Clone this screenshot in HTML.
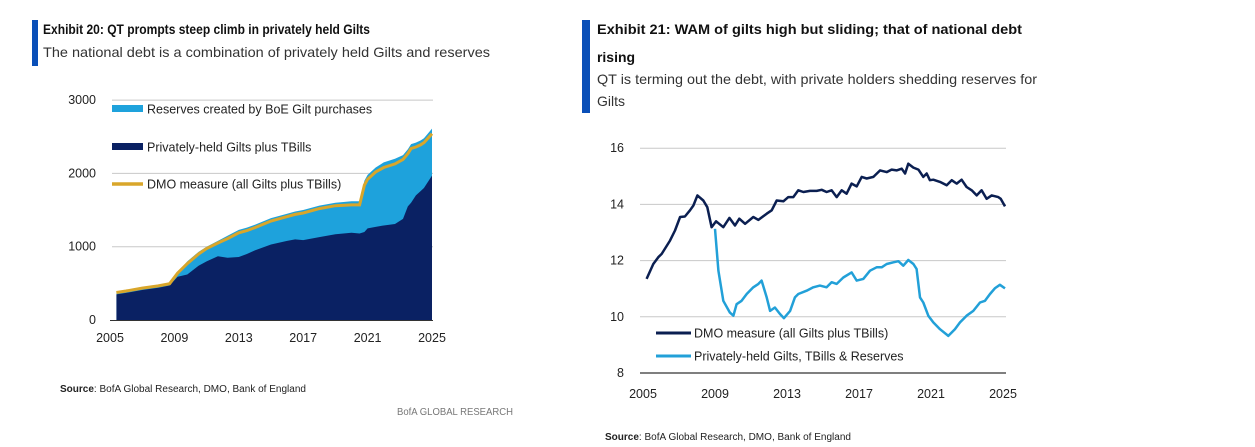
<!DOCTYPE html>
<html><head><meta charset="utf-8"><style>
html,body{margin:0;padding:0;background:#fff;}
svg{display:block;font-family:"Liberation Sans",sans-serif;}
.t{font-weight:bold;font-size:14px;fill:#111;}
.s{font-size:14px;fill:#333;}
.ax{font-size:12.5px;fill:#222;}
.lg{font-size:12.5px;fill:#222;}
.src{font-size:10px;fill:#222;}
</style></head><body>
<svg id="root" width="1255" height="447" viewBox="0 0 1255 447">
<g>
<rect x="32" y="20" width="6" height="46" fill="#0a4fb8"/>
<text class="t" x="43" y="34" textLength="327" lengthAdjust="spacingAndGlyphs">Exhibit 20: QT prompts steep climb in privately held Gilts</text>
<text class="s" x="43" y="57" textLength="447" lengthAdjust="spacingAndGlyphs">The national debt is a combination of privately held Gilts and reserves</text>
</g>
<g>
<rect x="582" y="20" width="8" height="93" fill="#0a4fb8"/>
<text class="t" x="597" y="34" textLength="425" lengthAdjust="spacingAndGlyphs">Exhibit 21: WAM of gilts high but sliding; that of national debt</text>
<text class="t" x="597" y="62" textLength="38" lengthAdjust="spacingAndGlyphs">rising</text>
<text class="s" x="597" y="84" textLength="440" lengthAdjust="spacingAndGlyphs">QT is terming out the debt, with private holders shedding reserves for</text>
<text class="s" x="597" y="106" textLength="28" lengthAdjust="spacingAndGlyphs">Gilts</text>
</g>
<g id="c1"></g>
<g id="c2"></g>
<text class="src" x="60" y="392" textLength="246" lengthAdjust="spacingAndGlyphs"><tspan font-weight="bold">Source</tspan>: BofA Global Research, DMO, Bank of England</text>
<text class="src" x="397" y="415" fill="#777" textLength="116" lengthAdjust="spacingAndGlyphs" style="fill:#777">BofA GLOBAL RESEARCH</text>
<text class="src" x="605" y="440" textLength="246" lengthAdjust="spacingAndGlyphs"><tspan font-weight="bold">Source</tspan>: BofA Global Research, DMO, Bank of England</text>
</svg>
<script>
// ---- Exhibit 20 data (GBP bn) ----
const yearsA = [2005.4,2006,2007,2008,2008.7,2009.2,2009.8,2010.5,2011,2011.7,2012.3,2013,2013.5,2014,2015,2016,2016.5,2017,2018,2019,2020,2020.5,2020.8,2021,2021.5,2022,2022.7,2023.2,2023.5,2023.7,2024,2024.3,2024.5,2025];
const privateA = [350,370,410,440,470,590,620,740,800,870,850,860,900,950,1030,1080,1100,1090,1130,1170,1190,1180,1200,1250,1270,1290,1310,1380,1550,1600,1700,1760,1800,1970];
const totalA = [380,400,440,470,500,650,800,930,1000,1080,1150,1230,1260,1300,1390,1450,1480,1500,1560,1600,1620,1620,1900,1980,2080,2150,2200,2250,2330,2400,2420,2450,2480,2610];
const dmoA = [375,395,435,465,495,640,770,900,975,1050,1110,1190,1220,1260,1350,1410,1440,1460,1520,1560,1570,1570,1840,1920,2020,2080,2130,2190,2270,2340,2360,2390,2420,2540];
const yTicksA = [0,1000,2000,3000];
const xTicksA = [2005,2009,2013,2017,2021,2025];
// ---- Exhibit 21 data (years) ----
const yearsDmo = [2005.2,2005.57,2005.85,2006.04,2006.5,2006.78,2007.06,2007.33,2007.61,2007.8,2008.02,2008.35,2008.57,2008.81,2009.06,2009.46,2009.8,2010.11,2010.35,2010.67,2011.13,2011.41,2011.87,2012.15,2012.43,2012.8,2013.07,2013.35,2013.63,2013.91,2014.28,2014.65,2014.93,2015.2,2015.48,2015.76,2016.04,2016.31,2016.59,2016.87,2017.15,2017.43,2017.8,2018.17,2018.54,2018.81,2019.09,2019.37,2019.56,2019.74,2020.02,2020.3,2020.57,2020.76,2020.94,2021.13,2021.5,2021.87,2022.15,2022.43,2022.7,2022.98,2023.26,2023.54,2023.81,2024.09,2024.37,2024.74,2024.87,2025.11];
const dmoWam = [11.35,11.88,12.12,12.24,12.71,13.07,13.55,13.57,13.79,13.96,14.32,14.14,13.9,13.19,13.4,13.19,13.52,13.25,13.49,13.31,13.55,13.45,13.67,13.79,14.14,14.11,14.26,14.26,14.5,14.44,14.48,14.48,14.52,14.44,14.5,14.26,14.5,14.38,14.74,14.64,14.98,14.92,14.98,15.21,15.15,15.24,15.21,15.27,15.1,15.45,15.31,15.24,14.98,15.1,14.86,14.88,14.8,14.68,14.86,14.74,14.88,14.62,14.5,14.32,14.5,14.2,14.32,14.26,14.2,13.93];
const yearsPriv = [2009.0,2009.19,2009.46,2009.83,2010.02,2010.2,2010.48,2010.76,2011.13,2011.41,2011.59,2011.87,2012.06,2012.33,2012.61,2012.83,2013.17,2013.44,2013.63,2014.09,2014.46,2014.83,2015.2,2015.48,2015.76,2016.13,2016.59,2016.87,2017.24,2017.61,2017.98,2018.26,2018.54,2018.91,2019.19,2019.46,2019.74,2020.02,2020.2,2020.39,2020.57,2020.85,2021.13,2021.5,2021.96,2022.33,2022.61,2022.98,2023.35,2023.72,2024.0,2024.28,2024.56,2024.83,2025.11];
const privWam = [13.13,11.64,10.57,10.15,10.04,10.45,10.57,10.81,11.05,11.17,11.29,10.69,10.21,10.33,10.1,9.95,10.21,10.69,10.81,10.93,11.05,11.11,11.05,11.23,11.17,11.4,11.58,11.29,11.35,11.64,11.76,11.76,11.88,11.94,11.98,11.82,12.02,11.88,11.7,10.69,10.51,10.04,9.8,9.56,9.32,9.56,9.8,10.04,10.21,10.51,10.57,10.81,11.02,11.14,11.01];
const yTicksB = [8,10,12,14,16];
const xTicksB = [2005,2009,2013,2017,2021,2025];

const NS="http://www.w3.org/2000/svg";
function mk(tag,parent,attrs){const e=document.createElementNS(NS,tag);for(const k in attrs)e.setAttribute(k,attrs[k]);parent.appendChild(e);return e;}

// Chart 1
const c1=document.getElementById('c1');
const xA=y=>110+(y-2005)*16.1;
const yA=v=>320-v*0.0733;
yTicksA.forEach(t=>{
  if(t>0){const g=mk('line',c1,{x1:112,x2:433,y1:yA(t),y2:yA(t),stroke:'#c8c8c8','stroke-width':1});
  
  }
  const l=mk('text',c1,{x:96,y:yA(t)+4,'text-anchor':'end',class:'ax'});l.textContent=t;
  
  
});
function areaPath(xs,ys,xf,yf,base){let d='M'+xf(xs[0])+','+yf(base);xs.forEach((x,i)=>d+='L'+xf(x)+','+yf(ys[i]));d+='L'+xf(xs[xs.length-1])+','+yf(base)+'Z';return d;}
function linePath(xs,ys,xf,yf){return xs.map((x,i)=>(i?'L':'M')+xf(x).toFixed(1)+','+yf(ys[i]).toFixed(1)).join('');}
const aRes=mk('path',c1,{d:areaPath(yearsA,totalA,xA,yA,0),fill:'#1ea2dc'});


const aPriv=mk('path',c1,{d:areaPath(yearsA,privateA,xA,yA,0),fill:'#0a2163'});


const lDmo=mk('path',c1,{d:linePath(yearsA,dmoA,xA,yA),fill:'none',stroke:'#d9a62a','stroke-width':3});


const axA=mk('line',c1,{x1:110,x2:433,y1:320.5,y2:320.5,stroke:'#333','stroke-width':1});


xTicksA.forEach(t=>{const l=mk('text',c1,{x:xA(t),y:342,'text-anchor':'middle',class:'ax'});l.textContent=t;
  
  });
// legend 1
const lg1=[['rect','#1ea2dc','Reserves created by BoE Gilt purchases',109],['rect','#0a2163','Privately-held Gilts plus TBills',147],['line','#d9a62a','DMO measure (all Gilts plus TBills)',184]];
lg1.forEach(r=>{
  const g=mk('g',c1,{});
  
  
  if(r[0]==='rect')mk('rect',g,{x:112,y:r[3]-4,width:31,height:7,fill:r[1]});
  else mk('line',g,{x1:112,x2:143,y1:r[3],y2:r[3],stroke:r[1],'stroke-width':3.5});
  const t=mk('text',g,{x:147,y:r[3]+4.5,class:'lg'});t.textContent=r[2];
});

// Chart 2
const c2=document.getElementById('c2');
const xB=y=>643+(y-2005)*18;
const yB=v=>373-(v-8)*28.1;
yTicksB.forEach(t=>{
  const g=mk('line',c2,{x1:640,x2:1006,y1:yB(t),y2:yB(t),stroke:t===8?'#555':'#c8c8c8','stroke-width':t===8?1.5:1});
  
  
  const l=mk('text',c2,{x:624,y:yB(t)+4,'text-anchor':'end',class:'ax'});l.textContent=t;
  
  
});
xTicksB.forEach(t=>{const l=mk('text',c2,{x:xB(t),y:398,'text-anchor':'middle',class:'ax'});l.textContent=t;
  
  });
const l1=mk('path',c2,{d:linePath(yearsDmo,dmoWam,xB,yB),fill:'none',stroke:'#0b1f51','stroke-width':2.5,'stroke-linejoin':'round'});


const l2=mk('path',c2,{d:linePath(yearsPriv,privWam,xB,yB),fill:'none',stroke:'#22a0d8','stroke-width':2.5,'stroke-linejoin':'round'});


const lg2=[['#0b1f51','DMO measure (all Gilts plus TBills)',333],['#22a0d8','Privately-held Gilts, TBills & Reserves',356]];
lg2.forEach(r=>{
  const g=mk('g',c2,{});
  
  
  mk('line',g,{x1:656,x2:691,y1:r[2],y2:r[2],stroke:r[0],'stroke-width':3});
  const t=mk('text',g,{x:694,y:r[2]+4.5,class:'lg'});t.textContent=r[1];
});
</script>
</body></html>
